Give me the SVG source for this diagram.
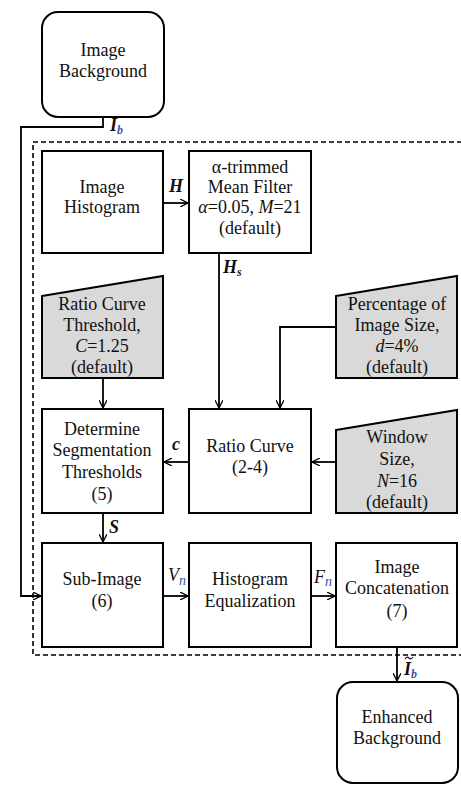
<svg xmlns="http://www.w3.org/2000/svg" width="461" height="786" viewBox="0 0 461 786" font-family="Liberation Serif, DejaVu Serif, serif">
<defs>
<marker id="ah" viewBox="0 0 10 10" refX="10" refY="5" markerWidth="8" markerHeight="8" markerUnits="userSpaceOnUse" orient="auto">
<path d="M0,0 L10,5 L0,10" fill="none" stroke="#000" stroke-width="1.6"/>
</marker>
<style>
.box{fill:#fff;stroke:#000;stroke-width:2}
.param{fill:#d9d9d9;stroke:#000;stroke-width:2}
.t{font-family:'Liberation Serif',serif;font-size:18px;fill:#111;text-anchor:middle}
.lbl{font-family:'Liberation Serif',serif;font-size:18px;font-style:italic;font-weight:bold;fill:#111}
.sub{font-size:12px;fill:#3a55a0}
.c{stroke:#000;stroke-width:1.8;fill:none}
.dash{stroke:#000;stroke-width:1.6;fill:none;stroke-dasharray:5,3}
</style>
</defs>

<g id="frame">
<polyline class="dash" points="462,142 33,142 33,655 462,655"/>
</g>

<g id="connectors">
<polyline class="c" points="103,117 103,127 21,127 21,596 41,596" marker-end="url(#ah)"/>
<line class="c" x1="163" y1="203" x2="188" y2="203" marker-end="url(#ah)"/>
<line class="c" x1="219" y1="253" x2="219" y2="408" marker-end="url(#ah)"/>
<polyline class="c" points="336,327 280,327 280,408" marker-end="url(#ah)"/>
<line class="c" x1="103" y1="378" x2="103" y2="408" marker-end="url(#ah)"/>
<line class="c" x1="336" y1="462" x2="312" y2="462" marker-end="url(#ah)"/>
<line class="c" x1="189" y1="462" x2="164" y2="462" marker-end="url(#ah)"/>
<line class="c" x1="103" y1="513" x2="103" y2="542" marker-end="url(#ah)"/>
<line class="c" x1="163" y1="596" x2="188" y2="596" marker-end="url(#ah)"/>
<line class="c" x1="311" y1="596" x2="335" y2="596" marker-end="url(#ah)"/>
<line class="c" x1="397" y1="647" x2="397" y2="681" marker-end="url(#ah)"/>
<text class="lbl" x="110" y="131">I<tspan class="sub" dy="3">b</tspan></text>
<text class="lbl" x="169" y="192">H</text>
<text class="lbl" x="223" y="273">H<tspan class="sub" dy="3" style="fill:#222">s</tspan></text>
<text class="lbl" x="172" y="450">c</text>
<text class="lbl" x="109" y="533">S</text>
<text class="lbl" x="168" y="581" style="font-weight:normal">V<tspan class="sub" dy="4" style="font-size:14px">n</tspan></text>
<text class="lbl" x="314" y="583" style="font-weight:normal">F<tspan class="sub" dy="3" style="font-size:14px">n</tspan></text>
<text class="lbl" x="404" y="675">I<tspan class="sub" dy="3">b</tspan></text>
<path d="M405,659 q2,-3 4,-1 t4,-1" fill="none" stroke="#111" stroke-width="1.2"/>
</g>

<g id="image-background">
<rect class="box" x="42" y="12" width="122" height="105" rx="16"/>
<text class="t" x="103" y="56">Image</text>
<text class="t" x="103" y="77">Background</text>
</g>

<g id="image-histogram">
<rect class="box" x="42" y="151" width="121" height="102"/>
<text class="t" x="102" y="193">Image</text>
<text class="t" x="102" y="213">Histogram</text>
</g>

<g id="trimmed-filter">
<rect class="box" x="189" y="151" width="122" height="102"/>
<text class="t" x="250" y="173">α-trimmed</text>
<text class="t" x="250" y="193">Mean Filter</text>
<text class="t" x="250" y="213"><tspan font-style="italic">α</tspan>=0.05, <tspan font-style="italic">M</tspan>=21</text>
<text class="t" x="250" y="234">(default)</text>
</g>

<g id="ratio-threshold">
<polygon class="param" points="42,296 163,276 163,378 42,378"/>
<text class="t" x="102" y="310">Ratio Curve</text>
<text class="t" x="102" y="331">Threshold,</text>
<text class="t" x="102" y="352"><tspan font-style="italic">C</tspan>=1.25</text>
<text class="t" x="102" y="373">(default)</text>
</g>

<g id="percentage">
<polygon class="param" points="336,296 457,276 457,378 336,378"/>
<text class="t" x="397" y="310">Percentage of</text>
<text class="t" x="397" y="331">Image Size,</text>
<text class="t" x="397" y="352"><tspan font-style="italic">d</tspan>=4%</text>
<text class="t" x="397" y="373">(default)</text>
</g>

<g id="determine">
<rect class="box" x="42" y="409" width="121" height="104"/>
<text class="t" x="102" y="435">Determine</text>
<text class="t" x="102" y="456">Segmentation</text>
<text class="t" x="102" y="478">Thresholds</text>
<text class="t" x="102" y="500">(5)</text>
</g>

<g id="ratio-curve">
<rect class="box" x="189" y="409" width="122" height="104"/>
<text class="t" x="250" y="452">Ratio Curve</text>
<text class="t" x="250" y="473">(2-4)</text>
</g>

<g id="window-size">
<polygon class="param" points="336,430 457,410 457,513 336,513"/>
<text class="t" x="397" y="443">Window</text>
<text class="t" x="397" y="465">Size,</text>
<text class="t" x="397" y="487"><tspan font-style="italic">N</tspan>=16</text>
<text class="t" x="397" y="508">(default)</text>
</g>

<g id="sub-image">
<rect class="box" x="42" y="543" width="121" height="104"/>
<text class="t" x="102" y="585">Sub-Image</text>
<text class="t" x="102" y="607">(6)</text>
</g>

<g id="hist-eq">
<rect class="box" x="189" y="543" width="122" height="104"/>
<text class="t" x="250" y="585">Histogram</text>
<text class="t" x="250" y="607">Equalization</text>
</g>

<g id="concat">
<rect class="box" x="336" y="543" width="121" height="104"/>
<text class="t" x="397" y="573">Image</text>
<text class="t" x="397" y="594">Concatenation</text>
<text class="t" x="397" y="617">(7)</text>
</g>

<g id="enhanced">
<rect class="box" x="337" y="682" width="121" height="101" rx="16"/>
<text class="t" x="397" y="723">Enhanced</text>
<text class="t" x="397" y="744">Background</text>
</g>
</svg>
